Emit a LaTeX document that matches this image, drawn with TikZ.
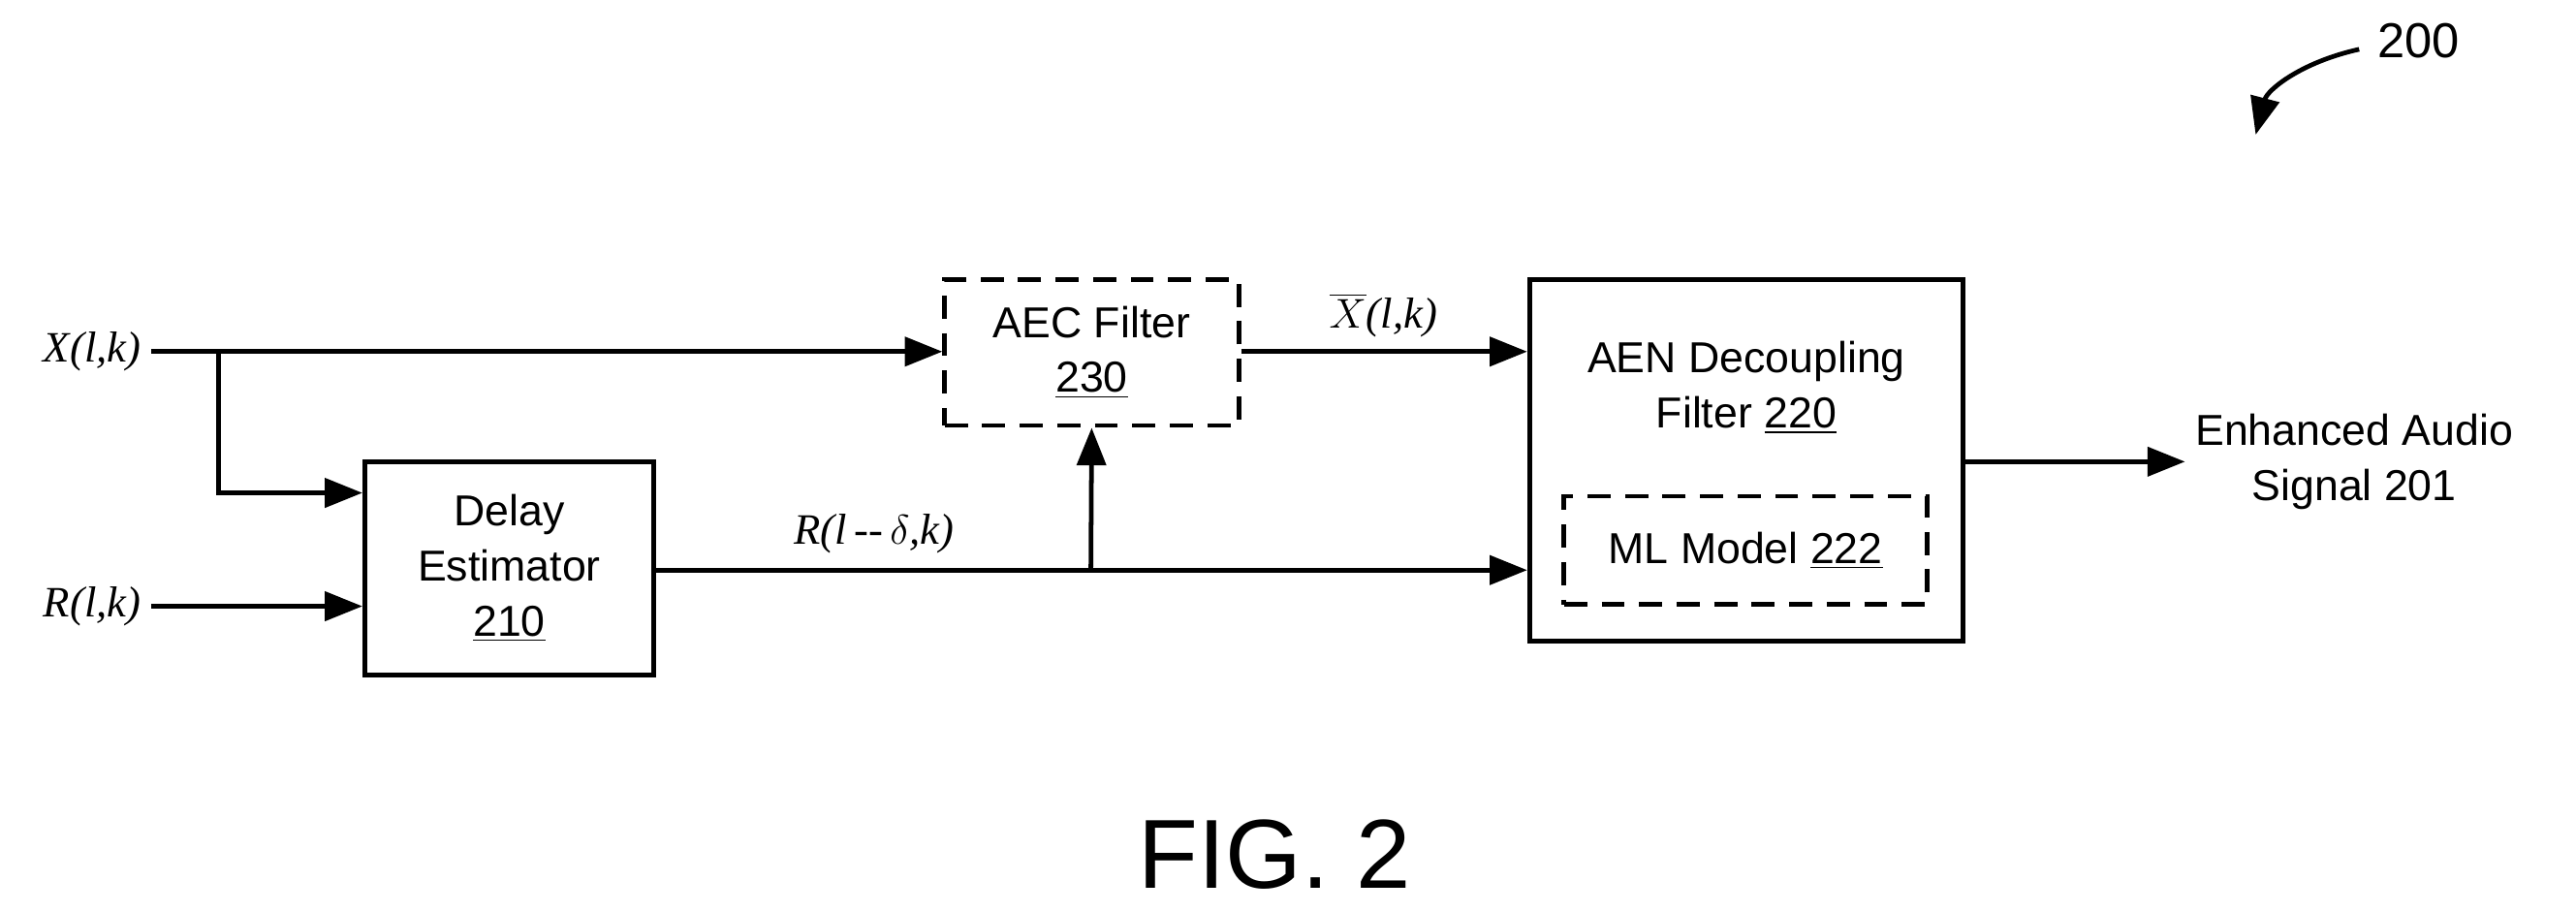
\documentclass[tikz,border=0pt]{standalone}
\usepackage{fontspec}
\setmainfont{Liberation Sans}
\newfontfamily\tms{Liberation Serif}
\usetikzlibrary{arrows.meta}
\begin{document}
\begin{tikzpicture}[x=0.02cm,y=-0.02cm,
  box/.style={draw,line width=1.6pt,align=center,font=\fontsize{15}{19}\selectfont,inner sep=0pt},
  dbox/.style={box,dash pattern=on 8pt off 5pt},
  wire/.style={line width=1.6pt},
  arr/.style={wire,-{Triangle[length=13pt,width=10pt]}},
  lab/.style={font=\tms\itshape\fontsize{15}{18}\selectfont}]
\useasboundingbox (0,0) rectangle (1568,555);
\node[box,minimum width=176*0.02cm,minimum height=130*0.02cm] (de) at (310,346) {Delay\\Estimator\\\underline{210}};
\node[dbox,minimum width=179*0.02cm,minimum height=89*0.02cm] (aec) at (664.5,214.5) {AEC Filter\\\underline{230}};
\node[box,minimum width=264*0.02cm,minimum height=220*0.02cm] (aen) at (1063,280) {};
\node[font=\fontsize{15}{19}\selectfont,align=center] (aent) at (1063,236) {AEN Decoupling\\Filter \underline{220}};
\node[dbox,minimum width=221*0.02cm,minimum height=66*0.02cm] (ml) at (1062.5,335) {ML Model \underline{222}};
\node[lab,anchor=east] (x) at (92,214) {X(l,k)};
\node[lab,anchor=east] (r) at (92,369) {R(l,k)};
\coordinate (xb) at (133,214);
\coordinate (rj) at (664,347);
\draw[arr] (x.east) -- (aec.west|-x.east);
\draw[arr] (xb) |- (de.west|-0,300);
\draw[arr] (r.east) -- (de.west|-r.east);
\draw[arr] (de.east|-rj) -- (aen.west|-rj);
\draw[arr] (rj) -- (aec.south);
\node[lab] (rd) at (532,325) {R(l\,\textrm{\normalfont\tms --}\,$\delta$,k)};
\draw[arr] (aec.east|-0,214) -- (aen.west|-0,214);
\node[lab] (xbar) at (842,192) {$\overline{X}$(l,k)};
\coordinate (out) at (1330,281);
\draw[arr] (aen.east|-out) -- (out);
\node[font=\fontsize{15}{19}\selectfont,align=center] (enh) at (1433,281) {Enhanced Audio\\Signal 201};
\node[font=\fontsize{17}{20}\selectfont] (n200) at (1472,25) {200};
\coordinate (a200) at (1373,82);
\draw[wire,-{Triangle[length=13pt,width=10pt]}] (1436,30) .. controls (1400,38) and (1380,55) .. (a200);
\node[font=\fontsize{34}{40}\selectfont] (fig) at (776,520) {FIG. 2};
\end{tikzpicture}
\end{document}
